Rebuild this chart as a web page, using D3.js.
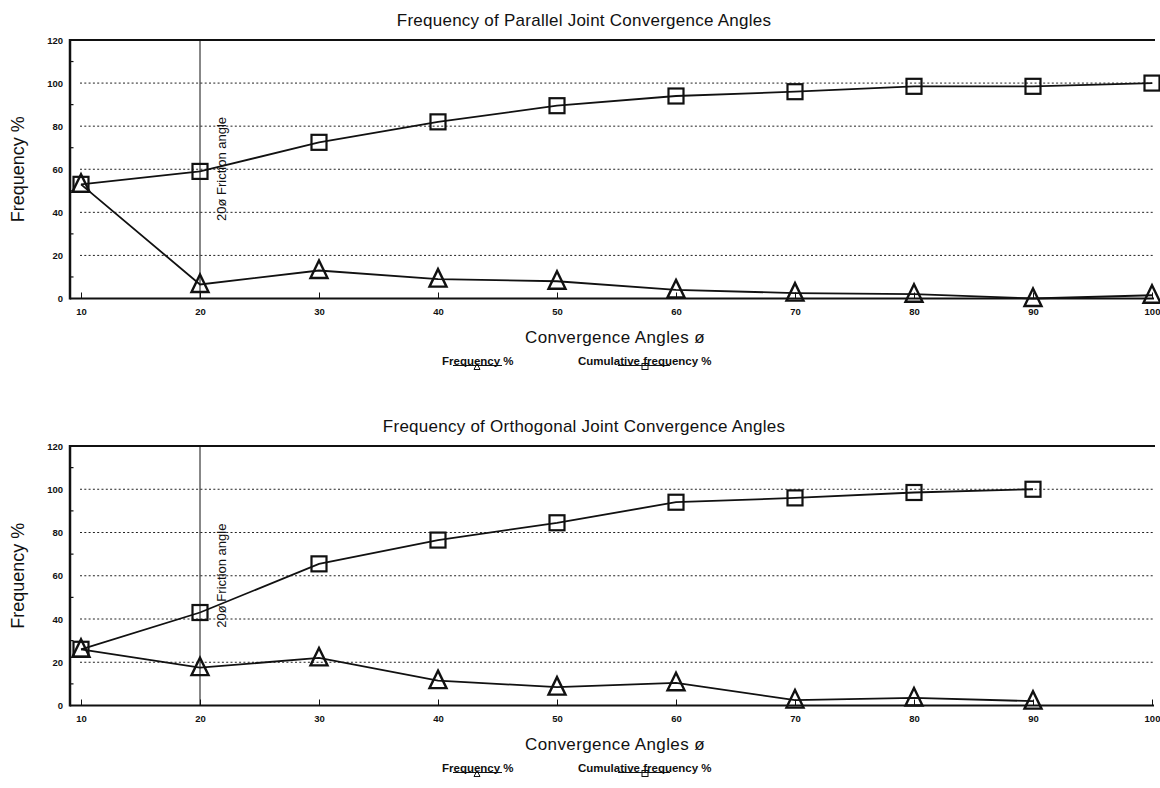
<!DOCTYPE html>
<html>
<head>
<meta charset="utf-8">
<script src="https://cdn.jsdelivr.net/npm/d3@7/dist/d3.min.js"></script>
<style>
  html, body { margin: 0; padding: 0; background: #fff; }
  svg { display: block; }
  text { font-family: "Liberation Sans", Arial, sans-serif; fill: #111; }
</style>
</head>
<body>
<svg id="chart" width="1160" height="788"></svg>
<script>
// Convergence angles (degrees) on the x axis
const xTicks = [10, 20, 30, 40, 50, 60, 70, 80, 90, 100];
const yTicks = [0, 20, 40, 60, 80, 100, 120];
const yMinorTicks = [10, 30, 50, 70, 90, 110];
const frictionAngle = 20;

// Parallel joints
const parallelAngles = [10, 20, 30, 40, 50, 60, 70, 80, 90, 100];
const parallelFrequency = [53, 6.5, 13, 9, 8, 4, 2.5, 2, 0, 1.5];
const parallelCumulative = [53, 59, 72.5, 82, 89.5, 94, 96, 98.5, 98.5, 100];

// Orthogonal joints
const orthogonalAngles = [10, 20, 30, 40, 50, 60, 70, 80, 90];
const orthogonalFrequency = [26, 17.5, 22, 11.5, 8.5, 10.5, 2.5, 3.5, 2];
const orthogonalCumulative = [26, 43, 65.5, 76.5, 84.5, 94, 96, 98.5, 100];

const titles = [
  "Frequency of Parallel Joint Convergence Angles",
  "Frequency of Orthogonal Joint Convergence Angles"
];
const xTitle = "Convergence Angles ø";
const yTitle = "Frequency %";
const frictionLabel = "20ø Friction angle";
const legendLabels = ["Frequency %", "Cumulative frequency %"];

const svg = d3.select("#chart");

const panels = [
  { title: titles[0], angles: parallelAngles, freq: parallelFrequency, cum: parallelCumulative, top: 40, bottom: 298.5 },
  { title: titles[1], angles: orthogonalAngles, freq: orthogonalFrequency, cum: orthogonalCumulative, top: 446, bottom: 705.5 }
];

const axisX = 70, plotRight = 1154;
const x = d3.scaleLinear().domain([10, 100]).range([81, 1152]);

const triPath = "M0,-10L8.5,7.5L-8.5,7.5Z";
const sqSize = 15;

panels.forEach(p => {
  const y = d3.scaleLinear().domain([0, 120]).range([p.bottom, p.top]);
  const g = svg.append("g");

  // title
  g.append("text")
    .attr("x", 584).attr("y", p.top - 14)
    .attr("text-anchor", "middle")
    .style("font-size", "17px")
    .style("letter-spacing", "0.25px")
    .text(p.title);

  // dotted gridlines
  g.append("g").selectAll("line")
    .data(yTicks.filter(v => v > 0 && v < 120))
    .join("line")
    .attr("x1", 80).attr("x2", plotRight)
    .attr("y1", d => y(d)).attr("y2", d => y(d))
    .attr("stroke", "#222").attr("stroke-width", 1)
    .attr("stroke-dasharray", "2,2.3");

  // top frame line at 120
  g.append("line")
    .attr("x1", axisX).attr("x2", plotRight + 1)
    .attr("y1", y(120)).attr("y2", y(120))
    .attr("stroke", "#111").attr("stroke-width", 2);

  // y axis
  const yAxis = g.append("g")
    .attr("transform", `translate(${axisX},0)`)
    .call(d3.axisLeft(y).tickValues(yTicks).tickSize(0).tickPadding(7).tickFormat(d3.format("d")));
  yAxis.select(".domain").remove();
  yAxis.selectAll("text")
    .style("font-size", "9.5px").style("font-weight", "bold")
    .style("font-family", "'Liberation Sans', Arial, sans-serif");
  g.append("line")
    .attr("x1", axisX).attr("x2", axisX)
    .attr("y1", y(120) - 1).attr("y2", y(0) + 1)
    .attr("stroke", "#111").attr("stroke-width", 2.5);
  g.append("g").selectAll("line")
    .data(yMinorTicks)
    .join("line")
    .attr("x1", axisX).attr("x2", axisX + 3.5)
    .attr("y1", d => y(d)).attr("y2", d => y(d))
    .attr("stroke", "#111").attr("stroke-width", 1.2);

  // x axis
  const xAxis = g.append("g")
    .attr("transform", `translate(0,${y(0)})`)
    .call(d3.axisBottom(x).tickValues(xTicks).tickSize(-6).tickPadding(10).tickFormat(d3.format("d")));
  xAxis.select(".domain").remove();
  xAxis.selectAll(".tick line").attr("stroke", "#111").attr("stroke-width", 1);
  xAxis.selectAll("text")
    .style("font-size", "9.5px").style("font-weight", "bold")
    .style("font-family", "'Liberation Sans', Arial, sans-serif");
  g.append("line")
    .attr("x1", axisX).attr("x2", plotRight)
    .attr("y1", y(0)).attr("y2", y(0))
    .attr("stroke", "#111").attr("stroke-width", 2);

  // friction angle marker
  g.append("line")
    .attr("x1", x(frictionAngle)).attr("x2", x(frictionAngle))
    .attr("y1", y(120)).attr("y2", y(0))
    .attr("stroke", "#111").attr("stroke-width", 1);
  g.append("text")
    .attr("transform", `translate(${x(frictionAngle) + 26},${y(36)}) rotate(-90)`)
    .style("font-size", "13px")
    .text(frictionLabel);

  // axis titles
  g.append("text")
    .attr("x", 615).attr("y", p.bottom + 44.5)
    .attr("text-anchor", "middle")
    .style("font-size", "17px")
    .style("letter-spacing", "0.4px")
    .text(xTitle);
  g.append("text")
    .attr("transform", `translate(24,${(p.top + p.bottom) / 2}) rotate(-90)`)
    .attr("text-anchor", "middle")
    .style("font-size", "18px")
    .text(yTitle);

  const line = d3.line()
    .x((d, i) => x(p.angles[i]))
    .y(d => y(d));

  // cumulative frequency series
  g.append("path")
    .datum(p.cum)
    .attr("d", line)
    .attr("fill", "none").attr("stroke", "#111").attr("stroke-width", 1.8);
  g.append("g").selectAll("rect")
    .data(p.cum)
    .join("rect")
    .attr("x", (d, i) => x(p.angles[i]) - sqSize / 2)
    .attr("y", d => y(d) - sqSize / 2)
    .attr("width", sqSize).attr("height", sqSize)
    .attr("fill", "none").attr("stroke", "#111").attr("stroke-width", 2.2);

  // frequency series
  g.append("path")
    .datum(p.freq)
    .attr("d", line)
    .attr("fill", "none").attr("stroke", "#111").attr("stroke-width", 1.8);
  g.append("g").selectAll("path")
    .data(p.freq)
    .join("path")
    .attr("transform", (d, i) => `translate(${x(p.angles[i])},${y(d)})`)
    .attr("d", triPath)
    .attr("fill", "none").attr("stroke", "#111").attr("stroke-width", 2.4)
    .attr("stroke-linejoin", "miter");

  // legend
  const ly = p.bottom + 66;
  const lg = g.append("g");
  lg.append("text")
    .attr("x", 442).attr("y", ly)
    .style("font-size", "11.5px").style("font-weight", "bold")
    .text(legendLabels[0]);
  lg.append("line")
    .attr("x1", 453).attr("x2", 502).attr("y1", ly + 1).attr("y2", ly + 1)
    .attr("stroke", "#111").attr("stroke-width", 1.2);
  lg.append("path")
    .attr("transform", `translate(477,${ly + 2.5})`)
    .attr("d", "M0,-3.5L3,2.5L-3,2.5Z")
    .attr("fill", "none").attr("stroke", "#111").attr("stroke-width", 1);

  lg.append("text")
    .attr("x", 578).attr("y", ly)
    .style("font-size", "11.5px").style("font-weight", "bold")
    .text(legendLabels[1]);
  lg.append("line")
    .attr("x1", 618).attr("x2", 670).attr("y1", ly + 1).attr("y2", ly + 1)
    .attr("stroke", "#111").attr("stroke-width", 1.2);
  lg.append("rect")
    .attr("x", 642).attr("y", ly - 1).attr("width", 6).attr("height", 6)
    .attr("fill", "none").attr("stroke", "#111").attr("stroke-width", 1);
});
</script>
</body>
</html>
